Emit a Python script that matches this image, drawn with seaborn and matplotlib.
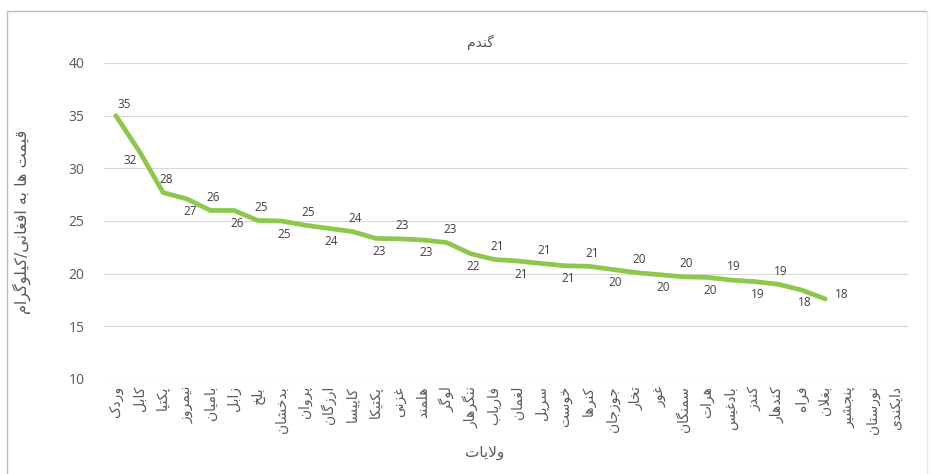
import numpy as np
import pandas as pd
import matplotlib
matplotlib.use("Agg")
import matplotlib.pyplot as plt
from matplotlib.lines import Line2D
import seaborn as sns

# داده ها
provinces = ["وردک", "کابل", "پکتیا", "نیمروز", "بامیان", "زابل", "بلخ", "بدخشان",
             "پروان", "ارزگان", "کاپیسا", "پکتیکا", "غزنی", "هلمند", "لوگر", "ننگرهار",
             "فاریاب", "لغمان", "سرپل", "خوست", "کنرها", "جوزجان", "تخار", "غور",
             "سمنگان", "هرات", "بادغیس", "کندز", "کندهار", "فراه", "بغلان", "پنجشیر",
             "نورستان", "دایکندی"]
prices = [35.0, 31.6, 27.7, 27.1, 26.0, 26.0, 25.05, 25.0, 24.6, 24.3, 24.0, 23.35,
          23.3, 23.2, 22.95, 21.9, 21.35, 21.2, 20.97, 20.75, 20.7, 20.4, 20.1, 19.9,
          19.7, 19.65, 19.4, 19.25, 19.0, 18.45, 17.6, np.nan, np.nan, np.nan]
title = "گندم"
xlabel = "ولایات"
ylabel = "قیمت ها به افغانی/کیلوگرام"

# شکل حروف عربی/فارسی (matplotlib خودش حروف را به هم نمی چسباند)
FORMS = {
    "ا": "\uFE8D\uFE8E", "آ": "\uFE81\uFE82", "د": "\uFEA9\uFEAA", "ذ": "\uFEAB\uFEAC",
    "ر": "\uFEAD\uFEAE", "ز": "\uFEAF\uFEB0", "ژ": "\uFB8A\uFB8B", "و": "\uFEED\uFEEE",
    "ب": "\uFE8F\uFE90\uFE91\uFE92", "پ": "\uFB56\uFB57\uFB58\uFB59",
    "ت": "\uFE95\uFE96\uFE97\uFE98", "ث": "\uFE99\uFE9A\uFE9B\uFE9C",
    "ج": "\uFE9D\uFE9E\uFE9F\uFEA0", "چ": "\uFB7A\uFB7B\uFB7C\uFB7D",
    "ح": "\uFEA1\uFEA2\uFEA3\uFEA4", "خ": "\uFEA5\uFEA6\uFEA7\uFEA8",
    "س": "\uFEB1\uFEB2\uFEB3\uFEB4", "ش": "\uFEB5\uFEB6\uFEB7\uFEB8",
    "ص": "\uFEB9\uFEBA\uFEBB\uFEBC", "ض": "\uFEBD\uFEBE\uFEBF\uFEC0",
    "ط": "\uFEC1\uFEC2\uFEC3\uFEC4", "ظ": "\uFEC5\uFEC6\uFEC7\uFEC8",
    "ع": "\uFEC9\uFECA\uFECB\uFECC", "غ": "\uFECD\uFECE\uFECF\uFED0",
    "ف": "\uFED1\uFED2\uFED3\uFED4", "ق": "\uFED5\uFED6\uFED7\uFED8",
    "ک": "\uFB8E\uFB8F\uFB90\uFB91", "گ": "\uFB92\uFB93\uFB94\uFB95",
    "ل": "\uFEDD\uFEDE\uFEDF\uFEE0", "م": "\uFEE1\uFEE2\uFEE3\uFEE4",
    "ن": "\uFEE5\uFEE6\uFEE7\uFEE8", "ه": "\uFEE9\uFEEA\uFEEB\uFEEC",
    "ی": "\uFBFC\uFBFD\uFBFE\uFBFF",
}


def shape(text):
    out = []
    i = 0
    n = len(text)
    while i < n:
        c = text[i]
        if c not in FORMS:
            out.append(c)
            i += 1
            continue
        prev = i > 0 and text[i - 1] in FORMS and len(FORMS[text[i - 1]]) == 4
        if c == "ل" and i + 1 < n and text[i + 1] == "ا":
            out.append("\uFEFC" if prev else "\uFEFB")
            i += 2
            continue
        f = FORMS[c]
        nxt = len(f) == 4 and i + 1 < n and text[i + 1] in FORMS
        if prev and nxt:
            g = f[3]
        elif prev:
            g = f[1]
        elif nxt:
            g = f[2]
        else:
            g = f[0]
        out.append(g)
        i += 1
    return "".join(out)[::-1]


sns.set_style("white")
plt.rcParams["font.family"] = ["Open Sans", "DejaVu Sans"]

df = pd.DataFrame({"pos": np.arange(len(provinces)), "price": prices})

fig = plt.figure(figsize=(9.31, 4.74), dpi=100)
ax = fig.add_axes([104 / 931, 1 - 379 / 474, 804 / 931, 316 / 474])

sns.lineplot(data=df.dropna(), x="pos", y="price", ax=ax, color="#8CC84B",
             linewidth=3.4, solid_capstyle="round", solid_joinstyle="round")

ax.set_xlim(-0.5, len(provinces) - 0.5)
ax.set_ylim(10, 40)
ax.set_yticks(range(10, 41, 5))
ax.set_xticks(df["pos"])
ax.set_xticklabels([shape(p) for p in provinces], rotation=90, fontsize=10,
                   color="#595959", family=["DejaVu Sans"])
ax.tick_params(axis="both", length=0)
ax.tick_params(axis="y", labelsize=10, labelcolor="#595959", pad=14)
ax.tick_params(axis="x", pad=5)
ax.grid(axis="y", color="#D9D9D9", linewidth=0.8)
ax.grid(axis="x", visible=False)
for s in ax.spines.values():
    s.set_visible(False)
ax.set_xlabel("")
ax.set_ylabel("")

# برچسب های داده
valid = df.dropna().reset_index(drop=True)
for k, row in valid.iterrows():
    if k == 0:
        dx, dy = 8, 11
    elif k == 1:
        dx, dy = -9, -9
    elif k == len(valid) - 1:
        dx, dy = 16, 4
    elif k % 2 == 0:
        dx, dy = 3, 13
    else:
        dx, dy = 3, -13
    ax.annotate(f"{row['price']:.0f}", (row["pos"], row["price"]),
                xytext=(dx * 0.72, dy * 0.72), textcoords="offset points",
                ha="center", va="center", fontsize=8.5, color="#404040")

fig.text(480 / 931, 1 - 42 / 474, shape(title), ha="center", va="center",
         fontsize=10, color="#595959", family=["DejaVu Sans"])
fig.text(485 / 931, 1 - 452 / 474, shape(xlabel), ha="center", va="center",
         fontsize=11, color="#595959", family=["DejaVu Sans"])
fig.text(22 / 931, 1 - 222 / 474, shape(ylabel), ha="center", va="center",
         rotation=90, fontsize=11.5, color="#595959", family=["DejaVu Sans"])

# قاب سبز
fig.add_artist(Line2D([6.5 / 931, 6.5 / 931], [0, 1 - 10.5 / 474],
                      transform=fig.transFigure, color="#A9D18E", linewidth=1))
fig.add_artist(Line2D([6.5 / 931, 927 / 931], [1 - 10.5 / 474, 1 - 10.5 / 474],
                      transform=fig.transFigure, color="#A9D18E", linewidth=1))
fig.add_artist(Line2D([927 / 931, 927 / 931], [0, 1 - 10.5 / 474],
                      transform=fig.transFigure, color="#E4EEDC", linewidth=1))

fig.savefig("out.png", dpi=100)
